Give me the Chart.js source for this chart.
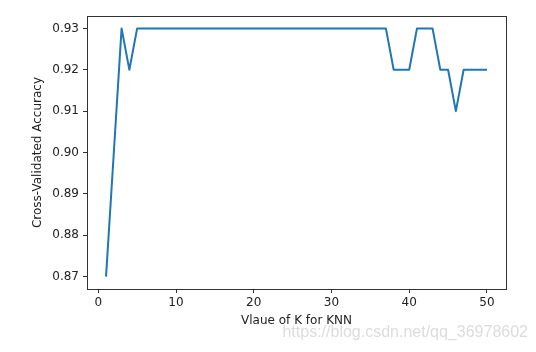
<!DOCTYPE html>
<html>
<head>
<meta charset="utf-8">
<script src="https://cdn.jsdelivr.net/npm/chart.js@4/dist/chart.umd.min.js"></script>
<style>
html,body{margin:0;padding:0;background:#fff;}
#wrap{width:536px;height:352px;position:relative;}
</style>
</head>
<body>
<div id="wrap"><canvas id="c" width="536" height="352"></canvas></div>
<script>
const kValues = [1,2,3,4,5,6,7,8,9,10,11,12,13,14,15,16,17,18,19,20,21,22,23,24,25,26,27,28,29,30,31,32,33,34,35,36,37,38,39,40,41,42,43,44,45,46,47,48,49,50];
const accuracy = [0.87,0.90,0.93,0.92,0.93,0.93,0.93,0.93,0.93,0.93,0.93,0.93,0.93,0.93,0.93,0.93,0.93,0.93,0.93,0.93,0.93,0.93,0.93,0.93,0.93,0.93,0.93,0.93,0.93,0.93,0.93,0.93,0.93,0.93,0.93,0.93,0.93,0.92,0.92,0.92,0.93,0.93,0.93,0.92,0.92,0.91,0.92,0.92,0.92,0.92];
const xTicks = [0,10,20,30,40,50];
const yTicks = [0.87,0.88,0.89,0.90,0.91,0.92,0.93];
const xTitle = 'Vlaue of K for KNN';
const yTitle = 'Cross-Validated Accuracy';
const watermark = 'https://blog.csdn.net/qq_36978602';

const FONT = 'DejaVu Sans';
const boxPlugin = {
  id: 'box',
  afterDraw(chart) {
    const {ctx, chartArea: a} = chart;
    ctx.save();
    ctx.strokeStyle = '#333';
    ctx.lineWidth = 1;
    ctx.strokeRect(Math.round(a.left) + 0.5, Math.round(a.top) + 0.5, Math.round(a.right - a.left), Math.round(a.bottom - a.top));
    ctx.fillStyle = '#dcdcdc';
    ctx.font = '16px "Liberation Sans", Arial, sans-serif';
    ctx.textAlign = 'right';
    ctx.textBaseline = 'middle';
    ctx.fillText(watermark, 528, 333);
    ctx.restore();
  }
};

new Chart(document.getElementById('c'), {
  type: 'line',
  data: {
    datasets: [{
      data: kValues.map((k, i) => ({x: k, y: accuracy[i]})),
      borderColor: '#1f77b4',
      borderWidth: 2,
      borderJoinStyle: 'round',
      borderCapStyle: 'butt',
      pointRadius: 0,
      tension: 0,
      fill: false
    }]
  },
  options: {
    responsive: false,
    animation: false,
    layout: {padding: {top: 16, right: 30, left: 0, bottom: 0}},
    plugins: {legend: {display: false}, tooltip: {enabled: false}},
    scales: {
      x: {
        type: 'linear',
        min: -1.45,
        max: 52.45,
        afterFit(s) { s.height = 63; },
        afterBuildTicks(s) { s.ticks = xTicks.map(v => ({value: v})); },
        grid: {drawOnChartArea: false, drawTicks: true, tickLength: 4, color: '#333', tickColor: '#333'},
        border: {display: true, color: '#333'},
        ticks: {color: '#222', font: {family: FONT, size: 12}, padding: 3, maxRotation: 0, callback: v => String(v)},
        title: {display: true, text: xTitle, color: '#222', font: {family: FONT, size: 12}, padding: {top: 0, bottom: 24}}
      },
      y: {
        type: 'linear',
        min: 0.867,
        max: 0.933,
        afterFit(s) { s.width = 87; },
        afterBuildTicks(s) { s.ticks = yTicks.map(v => ({value: v})); },
        grid: {drawOnChartArea: false, drawTicks: true, tickLength: 4, color: '#333', tickColor: '#333'},
        border: {display: true, color: '#333'},
        ticks: {color: '#222', font: {family: FONT, size: 12}, padding: 4, callback: v => v.toFixed(2)},
        title: {display: true, text: yTitle, color: '#222', font: {family: FONT, size: 12}, padding: {top: 31, bottom: 0}}
      }
    }
  },
  plugins: [boxPlugin]
});
</script>
</body>
</html>
